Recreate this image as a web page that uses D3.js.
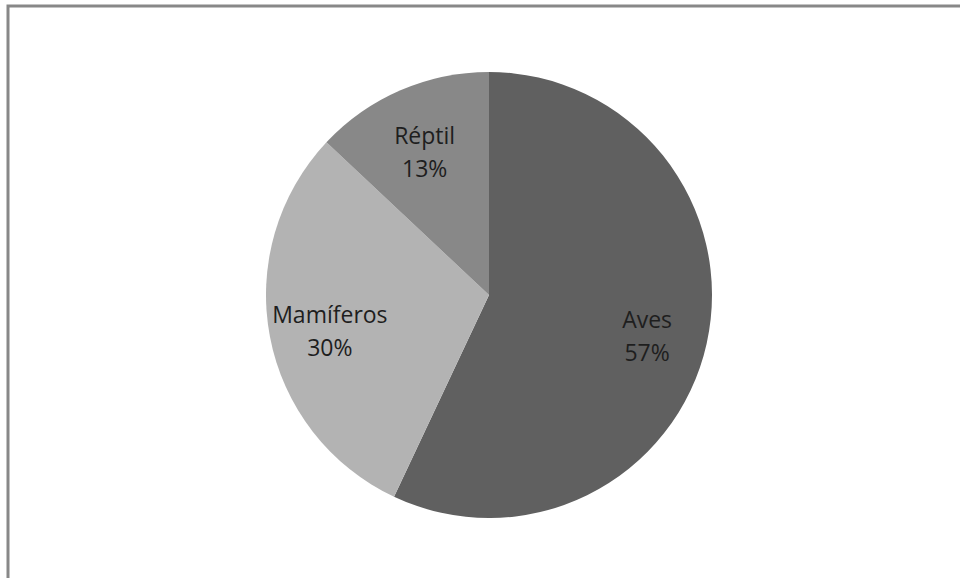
<!DOCTYPE html>
<html>
<head>
<meta charset="utf-8">
<script src="https://cdn.jsdelivr.net/npm/d3@7"></script>
<style>
  html, body { margin: 0; padding: 0; background: #fff; }
  svg { display: block; }
</style>
</head>
<body>
<svg id="chart" width="960" height="578"></svg>
<script>
const categories = ["Aves", "Mamíferos", "Réptil"];
const values = [57, 30, 13];
const colors = ["#606060", "#b3b3b3", "#888888"];

const svg = d3.select("#chart");

// chart border (extends beyond view on right/bottom)
svg.append("rect")
  .attr("x", 8).attr("y", 6)
  .attr("width", 1000).attr("height", 700)
  .attr("fill", "none")
  .attr("stroke", "#888888")
  .attr("stroke-width", 3);

const cx = 489, cy = 295, r = 223;
const data = categories.map((c, i) => ({ cat: c, value: values[i], color: colors[i] }));
const total = d3.sum(values);

const pie = d3.pie().value(d => d.value).sort(null);
const arc = d3.arc().innerRadius(0).outerRadius(r);
const labelArc = d3.arc().innerRadius(162).outerRadius(162);

const g = svg.append("g").attr("transform", `translate(${cx},${cy})`);
const arcs = pie(data);

g.selectAll("path.slice").data(arcs).join("path")
  .attr("class", "slice")
  .attr("d", arc)
  .attr("fill", d => d.data.color);

const labels = g.selectAll("g.lbl").data(arcs).join("g")
  .attr("class", "lbl")
  .attr("transform", d => {
    const [x, y] = labelArc.centroid(d);
    return `translate(${x},${y + 4})`;
  });

labels.append("text")
  .attr("text-anchor", "middle")
  .attr("y", -6)
  .style("font-family", "'Open Sans', sans-serif")
  .style("font-size", "23px")
  .attr("fill", "#1e1e1e")
  .text(d => d.data.cat);

labels.append("text")
  .attr("text-anchor", "middle")
  .attr("y", 27)
  .style("font-family", "'Open Sans', sans-serif")
  .style("font-size", "23px")
  .attr("fill", "#1e1e1e")
  .text(d => Math.round(d.data.value / total * 100) + "%");
</script>
</body>
</html>
